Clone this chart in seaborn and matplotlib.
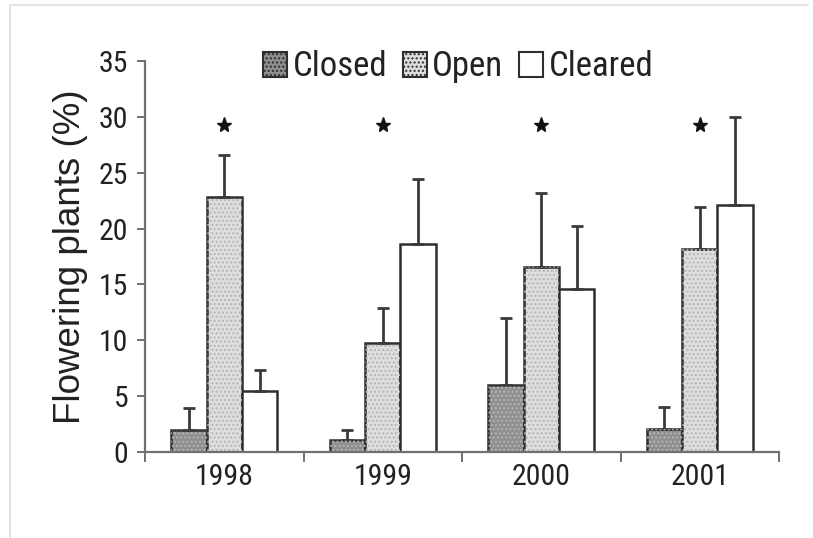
import matplotlib
matplotlib.use("Agg")
import matplotlib.pyplot as plt
import seaborn as sns
import pandas as pd
import numpy as np
from matplotlib.lines import Line2D
from matplotlib.patches import Patch, Rectangle
from matplotlib import font_manager
from matplotlib.font_manager import FontProperties

# Data: percentage of flowering plants per habitat and year (mean + upper SE)
years = ["1998", "1999", "2000", "2001"]
habitats = ["Closed", "Open", "Cleared"]
closed = [2.0, 1.1, 6.0, 2.1]
open_ = [22.8, 9.8, 16.6, 18.2]
cleared = [5.5, 18.6, 14.6, 22.1]
closed_err = [1.9, 0.9, 6.0, 1.9]
open_err = [3.8, 3.1, 6.6, 3.7]
cleared_err = [1.8, 5.8, 5.6, 7.9]
star_y = [29.3, 29.3, 29.3, 29.3]

errs = [closed_err, open_err, cleared_err]

df = pd.DataFrame({
    "Year": years * 3,
    "Habitat": sum([[h] * len(years) for h in habitats], []),
    "Value": closed + open_ + cleared,
})

sns.set_theme(style="white")
plt.rcParams["font.family"] = ["Liberation Sans", "DejaVu Sans"]


def condensed_font(size):
    """Pick a narrow sans face if one is installed, else regular Liberation Sans."""
    entries = font_manager.fontManager.ttflist
    for f in entries:
        if f.name == "Liberation Sans Narrow" and f.weight in (400, "normal") and f.style == "normal":
            return FontProperties(fname=f.fname, size=size)
    cands = [f for f in entries
             if ("condensed" in str(f.stretch) or "Narrow" in f.name or "Condensed" in f.name)
             and f.style == "normal" and f.weight in (400, "normal", "regular")]
    order = ["Roboto", "Open Sans", "Noto Sans", "DejaVu Sans", "Lato", "Inter"]
    cands.sort(key=lambda f: next((i for i, n in enumerate(order) if f.name.startswith(n)), 99))
    if cands:
        return FontProperties(fname=cands[0].fname, size=size)
    return FontProperties(family=["Liberation Sans", "DejaVu Sans"], size=size)


tick_font = condensed_font(21.5)
legend_font = condensed_font(25)

fill = {"Closed": "#8f8f8f", "Open": "#dedede", "Cleared": "#ffffff"}
edge = "#2e2e2e"

fig = plt.figure(figsize=(8.13, 5.38), dpi=100)
ax = fig.add_axes([145 / 813, 1 - 452 / 538, (779 - 145) / 813, (452 - 61) / 538])

sns.barplot(data=df, x="Year", y="Value", hue="Habitat", order=years,
            hue_order=habitats, palette=fill, width=0.67, gap=0,
            edgecolor=edge, linewidth=1.8, errorbar=None, legend=False, ax=ax)

# Dotted texture on the shaded bars, upward-only error bars
containers = list(ax.containers)
for hi, cont in enumerate(containers):
    for bi, bar in enumerate(cont.patches):
        x = bar.get_x() + bar.get_width() / 2
        h = bar.get_height()
        if habitats[hi] != "Cleared":
            ax.add_patch(Rectangle((bar.get_x(), 0), bar.get_width(), h,
                                   facecolor="none", edgecolor="#b5b5b5",
                                   hatch="....", linewidth=0, zorder=bar.get_zorder() + 0.1))
        ax.errorbar(x, h, yerr=[[0], [errs[hi][bi]]], fmt="none",
                    ecolor="#3a3a3a", elinewidth=2.0, capsize=4.5, capthick=2.0,
                    zorder=1)

# Significance stars above the open-habitat bars
for bi, bar in enumerate(containers[1].patches):
    ax.plot(bar.get_x() + bar.get_width() / 2, star_y[bi], marker="*",
            color="#111111", markersize=11, linestyle="none")

ax.set_ylim(0, 35)
ax.set_xlim(-0.5, 3.5)
ax.set_yticks(np.arange(0, 36, 5))
ax.set_xlabel("")
ax.set_ylabel("Flowering plants (%)", fontsize=26.5, color="#222222", labelpad=8)

for s in ["top", "right"]:
    ax.spines[s].set_visible(False)
for s in ["left", "bottom"]:
    ax.spines[s].set_color("#707070")
    ax.spines[s].set_linewidth(1.6)

ax.tick_params(axis="y", which="major", direction="out", length=6, width=1.4,
               color="#707070", pad=6, left=True)
ax.tick_params(axis="x", which="major", length=0, pad=8)
ax.set_xticks(np.arange(-0.5, 3.6, 1), minor=True)
ax.tick_params(axis="x", which="minor", direction="out", length=7, width=1.4,
               color="#707070", bottom=True)
for lab in ax.get_xticklabels() + ax.get_yticklabels():
    lab.set_fontproperties(tick_font)
    lab.set_color("#222222")

handles = [Patch(facecolor=fill[h], edgecolor=edge, linewidth=1.5,
                 hatch="...." if h != "Cleared" else None) for h in habitats]
leg = ax.legend(handles, habitats, loc="center", bbox_to_anchor=(0.494, 0.985),
                ncol=3, frameon=False, handlelength=0.7, handleheight=0.75,
                handletextpad=0.15, columnspacing=0.45, prop=legend_font)
for t in leg.get_texts():
    t.set_color("#222222")

# Faint page border
fig.add_artist(Line2D([10 / 813, 808 / 813], [1 - 5 / 538, 1 - 5 / 538],
                      transform=fig.transFigure, color="#e4e4e4", linewidth=1.5))
fig.add_artist(Line2D([10 / 813, 10 / 813], [0, 1 - 5 / 538],
                      transform=fig.transFigure, color="#e4e4e4", linewidth=1.5))

fig.savefig("out.png", dpi=100)
